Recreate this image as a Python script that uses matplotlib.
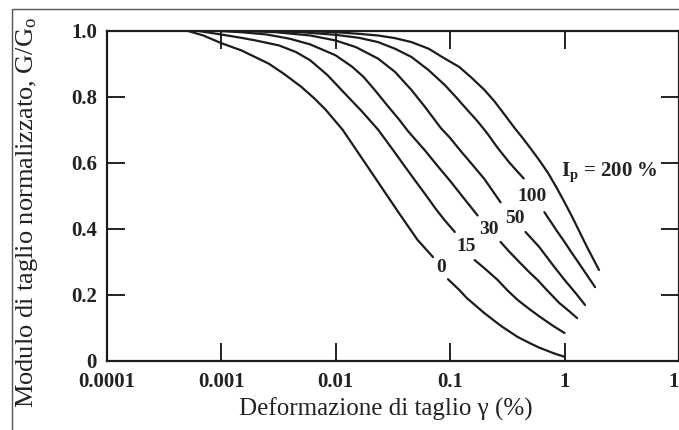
import matplotlib
matplotlib.use("Agg")
import matplotlib.pyplot as plt
from matplotlib.ticker import NullLocator
from matplotlib.patches import Rectangle

# Curve readings (strain %, G/G0), split where the labels sit
strain_0_a = [0.0005, 0.0007, 0.001, 0.0015, 0.0026, 0.0035, 0.005, 0.0065, 0.0082, 0.0115,
              0.0152, 0.02, 0.027, 0.037, 0.052, 0.071]
g_0_a = [1.0, 0.985, 0.962, 0.94, 0.90, 0.87, 0.83, 0.795, 0.76, 0.70,
         0.638, 0.577, 0.51, 0.44, 0.366, 0.314]
strain_0_b = [0.096, 0.12, 0.14, 0.2, 0.28, 0.39, 0.5, 0.6, 0.8, 1.0]
g_0_b = [0.247, 0.215, 0.19, 0.144, 0.105, 0.072, 0.053, 0.04, 0.023, 0.012]

strain_15_a = [0.0006, 0.001, 0.0015, 0.002, 0.0032, 0.0045, 0.006, 0.0085, 0.012, 0.017,
               0.0235, 0.0318, 0.04, 0.049, 0.062, 0.075, 0.09, 0.11]
g_15_a = [1.0, 0.988, 0.978, 0.97, 0.955, 0.935, 0.91, 0.865, 0.81, 0.755,
          0.70, 0.638, 0.59, 0.548, 0.50, 0.46, 0.425, 0.39]
strain_15_b = [0.164, 0.2, 0.26, 0.32, 0.39, 0.5, 0.6, 0.8, 1.0]
g_15_b = [0.305, 0.28, 0.245, 0.212, 0.184, 0.155, 0.135, 0.105, 0.084]

strain_30_a = [0.0008, 0.0015, 0.0025, 0.004, 0.006, 0.01, 0.014, 0.0175, 0.022, 0.0288,
               0.036, 0.043, 0.06, 0.08, 0.1, 0.13, 0.174]
g_30_a = [1.0, 0.995, 0.988, 0.975, 0.958, 0.925, 0.89, 0.86, 0.82, 0.77,
          0.73, 0.695, 0.638, 0.585, 0.545, 0.495, 0.44]
strain_30_b = [0.276, 0.33, 0.4, 0.48, 0.58, 0.72, 0.9, 1.1, 1.29]
g_30_b = [0.36, 0.33, 0.30, 0.272, 0.245, 0.21, 0.175, 0.15, 0.129]

strain_50_a = [0.0012, 0.003, 0.006, 0.01, 0.015, 0.0235, 0.033, 0.046, 0.06, 0.083,
               0.1, 0.122, 0.16, 0.2, 0.276]
g_50_a = [1.0, 0.995, 0.985, 0.97, 0.95, 0.915, 0.875, 0.82, 0.77, 0.705,
          0.675, 0.638, 0.59, 0.55, 0.48]
strain_50_b = [0.456, 0.6, 0.815, 1.0, 1.25, 1.51]
g_50_b = [0.39, 0.345, 0.284, 0.245, 0.205, 0.169]

strain_100_a = [0.002, 0.005, 0.01, 0.016, 0.0235, 0.033, 0.046, 0.065, 0.09, 0.115,
                0.137, 0.174, 0.21, 0.26, 0.33, 0.44]
g_100_a = [1.0, 0.995, 0.987, 0.978, 0.965, 0.945, 0.92, 0.88, 0.835, 0.795,
           0.765, 0.725, 0.69, 0.645, 0.60, 0.552]
strain_100_b = [0.667, 0.85, 1.0, 1.12, 1.4, 1.85]
g_100_b = [0.45, 0.395, 0.36, 0.334, 0.285, 0.223]

strain_200 = [0.004, 0.01, 0.016, 0.0235, 0.033, 0.046, 0.065, 0.09, 0.12, 0.151,
              0.2, 0.245, 0.3, 0.366, 0.43, 0.5, 0.6, 0.72, 0.85, 1.0,
              1.15, 1.29, 1.57, 2.0]
g_200 = [1.0, 0.995, 0.99, 0.985, 0.977, 0.965, 0.945, 0.915, 0.89, 0.86,
         0.82, 0.785, 0.745, 0.705, 0.675, 0.645, 0.608, 0.568, 0.525, 0.48,
         0.44, 0.405, 0.345, 0.275]

x_ticks = [0.0001, 0.001, 0.01, 0.1, 1, 10]
x_tick_labels = ["0.0001", "0.001", "0.01", "0.1", "1", "10"]
y_ticks = [0, 0.2, 0.4, 0.6, 0.8, 1.0]
y_tick_labels = ["0", "0.2", "0.4", "0.6", "0.8", "1.0"]

# label text and where it sits (strain, G/G0)
curve_labels = ["0", "15", "30", "50", "100"]
label_x = [0.083, 0.137, 0.217, 0.366, 0.525]
label_y = [0.281, 0.345, 0.396, 0.432, 0.496]

plt.rcParams['font.family'] = ['Liberation Serif', 'DejaVu Serif']
plt.rcParams['mathtext.fontset'] = 'custom'
plt.rcParams['mathtext.rm'] = 'Liberation Serif'
plt.rcParams['mathtext.it'] = 'Liberation Serif:italic'
plt.rcParams['mathtext.bf'] = 'Liberation Serif:bold'

fig = plt.figure(figsize=(6.79, 4.30), dpi=100)
ax = fig.add_axes([0.157, 0.161, 0.843, 0.768])

line_col = '#1c1c1c'
txt_col = '#222222'
segments = [
    (strain_0_a, g_0_a), (strain_0_b, g_0_b),
    (strain_15_a, g_15_a), (strain_15_b, g_15_b),
    (strain_30_a, g_30_a), (strain_30_b, g_30_b),
    (strain_50_a, g_50_a), (strain_50_b, g_50_b),
    (strain_100_a, g_100_a), (strain_100_b, g_100_b),
    (strain_200, g_200),
]
for sx, sy in segments:
    ax.plot(sx, sy, color=line_col, lw=1.6, solid_capstyle='round',
            solid_joinstyle='round')

for txt, lx, ly in zip(curve_labels, label_x, label_y):
    ax.text(lx, ly, txt, ha='center', va='center', fontsize=14,
            fontweight='bold', color=txt_col)
ax.text(0.93, 0.572, r"I$_{\mathbf{p}}$ = 200 %", ha='left', va='center',
        fontsize=15, fontweight='bold', color=txt_col)

ax.set_xscale('log')
ax.set_xlim(1e-4, 10)
ax.set_ylim(0, 1.0)
ax.set_xticks(x_ticks)
ax.set_xticklabels(x_tick_labels)
ax.set_yticks(y_ticks)
ax.set_yticklabels(y_tick_labels)
ax.xaxis.set_minor_locator(NullLocator())

ax.tick_params(direction='in', length=13, width=1.4, top=True, right=True,
               labelsize=15, colors=txt_col)
ax.tick_params(axis='x', pad=8)
ax.tick_params(axis='y', pad=7)
for lab in ax.get_xticklabels() + ax.get_yticklabels():
    lab.set_fontweight('bold')
for sp in ax.spines.values():
    sp.set_linewidth(1.6)
    sp.set_color(line_col)

ax.set_xlabel("Deformazione di taglio γ (%)", fontsize=18, color=txt_col)
ax.xaxis.set_label_coords(0.487, -0.11)
ax.set_ylabel("Modulo di taglio normalizzato, G/G$_{\\rm o}$", fontsize=19,
              color=txt_col)
ax.yaxis.set_label_coords(-0.117, 0.45)

# outer frame of the original figure
fig.patches.append(Rectangle((12 / 679, -0.05), 1.1, 0.979 + 0.05,
                             transform=fig.transFigure, fill=False,
                             edgecolor='#555555', lw=1.0))

fig.savefig("out.png", dpi=100)
